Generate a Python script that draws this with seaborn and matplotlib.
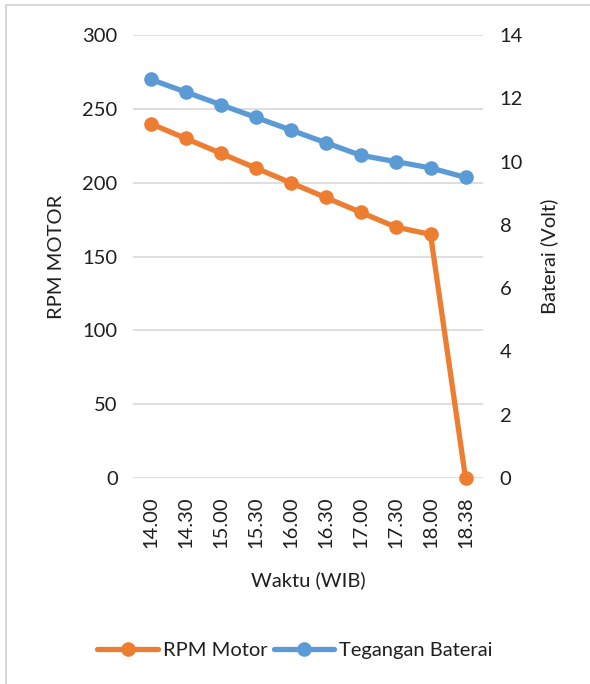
import matplotlib
matplotlib.use("Agg")
import matplotlib.pyplot as plt
from matplotlib.patches import Rectangle
import pandas as pd
import seaborn as sns

# Data
waktu = ["14.00", "14.30", "15.00", "15.30", "16.00",
         "16.30", "17.00", "17.30", "18.00", "18.38"]
rpm_motor = [240, 230, 220, 210, 200, 190, 180, 170, 165, 0]
tegangan_baterai = [12.6, 12.2, 11.8, 11.4, 11.0, 10.6, 10.2, 10.0, 9.8, 9.5]

df = pd.DataFrame({"Waktu": waktu, "RPM": rpm_motor, "Volt": tegangan_baterai})

sns.set_theme(style="white")
plt.rcParams["font.family"] = ["Lato", "DejaVu Sans"]
TEXT = "#1f1f1f"
ORANGE = "#ED7D31"
BLUE = "#5B9BD5"
GRID = "#D9D9D9"
FS = 14.5

fig = plt.figure(figsize=(5.9, 6.84), dpi=100)
ax = fig.add_axes([133 / 590, 1 - 478 / 684, 350 / 590, 443 / 684])
ax2 = ax.twinx()

line_kw = dict(linewidth=3.8, marker="o", markersize=10.5,
               markeredgewidth=0, sort=False, legend=False, clip_on=False)
sns.lineplot(data=df, x="Waktu", y="RPM", ax=ax, color=ORANGE,
             label="RPM Motor", zorder=3, **line_kw)
sns.lineplot(data=df, x="Waktu", y="Volt", ax=ax2, color=BLUE,
             label="Tegangan Baterai", zorder=3, **line_kw)

ax.set_xlim(-0.5, len(waktu) - 0.5)
ax.set_ylim(0, 300)
ax.set_yticks(range(0, 301, 50))
ax2.set_ylim(0, 14)
ax2.set_yticks(range(0, 15, 2))

ax.yaxis.grid(True, color=GRID, linewidth=1.2)
ax.set_axisbelow(True)
for a in (ax, ax2):
    for s in a.spines.values():
        s.set_visible(False)
    a.tick_params(length=0, colors=TEXT, labelsize=FS)

ax.tick_params(axis="y", pad=11)
ax2.tick_params(axis="y", pad=12)
ax.tick_params(axis="x", pad=13, labelrotation=90)

ax.set_xlabel("Waktu (WIB)", fontsize=FS, color=TEXT)
ax.xaxis.set_label_coords(0.5, -0.23)
ax.xaxis.label.set_verticalalignment("center")
ax.set_ylabel("RPM MOTOR", fontsize=FS, color=TEXT)
ax.yaxis.set_label_coords(-0.22, 0.5)
ax.yaxis.label.set_verticalalignment("center")
ax2.set_ylabel("Baterai (Volt)", fontsize=FS, color=TEXT)
ax2.yaxis.set_label_coords(1.19, 0.5)
ax2.yaxis.label.set_verticalalignment("center")

h1, l1 = ax.get_legend_handles_labels()
h2, l2 = ax2.get_legend_handles_labels()
fig.legend(h1 + h2, l1 + l2, loc="center", bbox_to_anchor=(0.5, 1 - 650 / 684),
           ncol=2, frameon=False, fontsize=FS, handlelength=3.0,
           columnspacing=0.3, handletextpad=0.25, labelcolor=TEXT)

# chart frame
fig.patches.append(Rectangle((6 / 590, -0.1), 1.2, 1 - 5 / 684 + 0.1,
                             transform=fig.transFigure, fill=False,
                             edgecolor=GRID, linewidth=1.5))

fig.savefig("out.png", dpi=100, facecolor="white")
